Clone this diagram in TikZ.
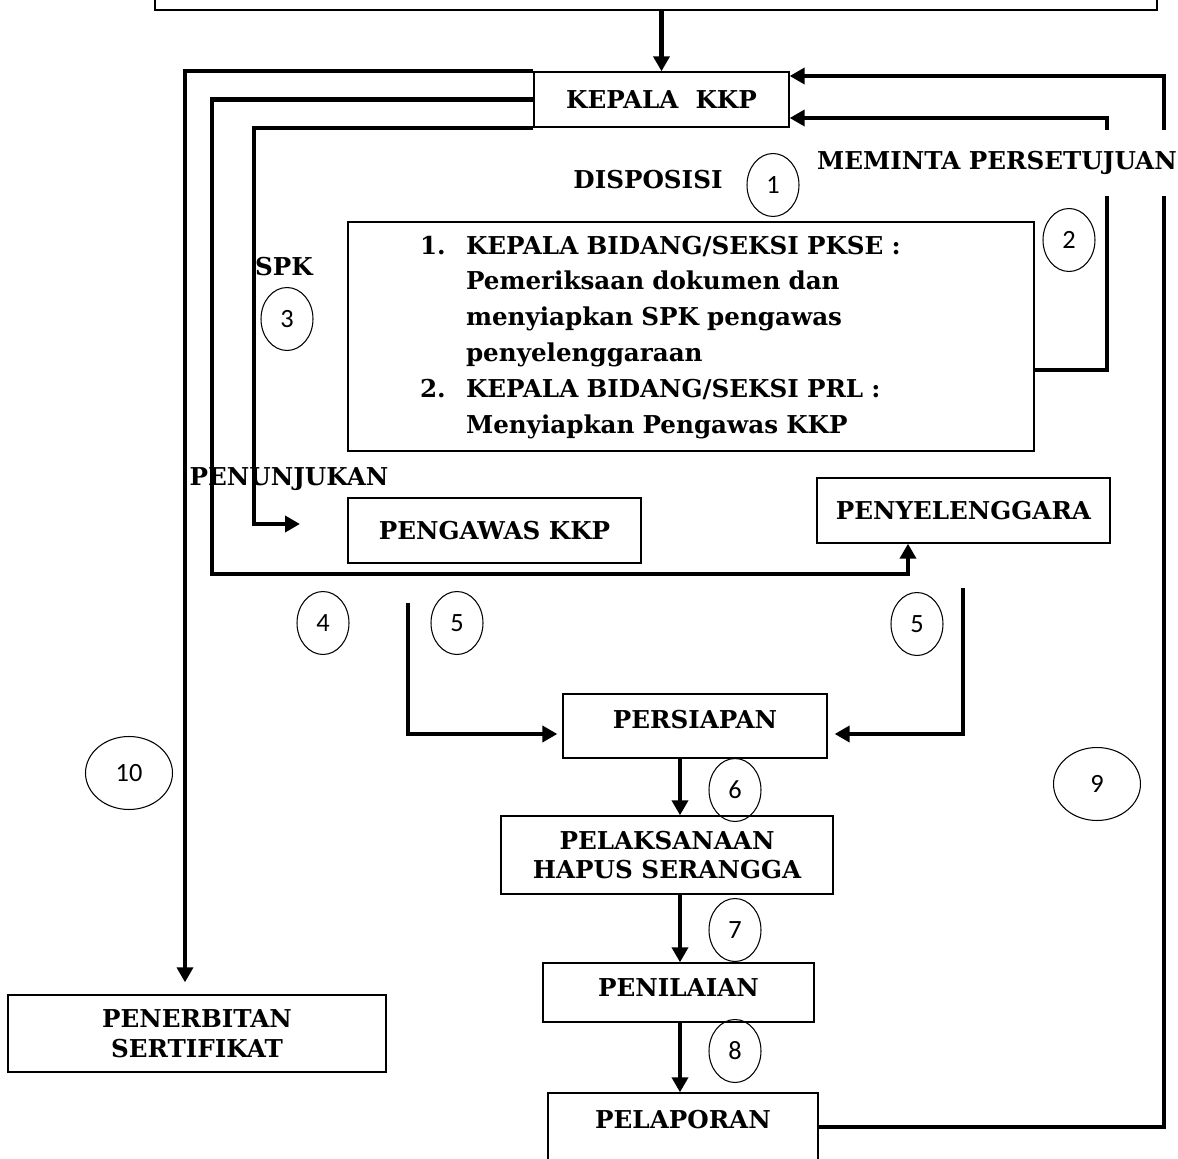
\documentclass[tikz,border=0pt]{standalone}
\usepackage{fontspec}
\setmainfont{DejaVu Serif}
\newfontfamily\angka{Carlito}
\usetikzlibrary{arrows.meta, shapes.geometric}

\begin{document}
\begin{tikzpicture}[x=0.02cm, y=-0.02cm, >={Triangle[length=0.3cm, width=0.32cm]}]

        % Gaya
        \tikzset{
            kotak/.style={draw, line width=0.8pt, align=center, inner sep=0pt, font=\bfseries\fontsize{14}{17}\selectfont},
            bulat/.style={draw, ellipse, line width=0.6pt, inner sep=0pt, minimum width=1.04cm, minimum height=1.26cm, font=\angka\fontsize{15}{15}\selectfont},
            bulatbesar/.style={bulat, minimum width=1.74cm, minimum height=1.46cm},
            keterangan/.style={font=\bfseries\fontsize{14}{17}\selectfont},
            alur/.style={line width=2.4pt},
            panah/.style={alur, ->}
        }

        \useasboundingbox (0,0) rectangle (1178,1159);
        \clip (0,0) rectangle (1178,1159);

        % --- KOTAK-KOTAK ---
        \node[kotak, minimum width=20.04cm, minimum height=1.6cm] (atas) at (656,-30) {};
        \node[kotak, minimum width=5.1cm, minimum height=1.1cm] (kepala) at (661.5,99.5) {KEPALA\ \ KKP};
        \node[kotak, minimum width=13.72cm, minimum height=4.58cm, text width=10.84cm, align=left] (tugas) at (691,336.5) {%
            \fontsize{14}{20.4}\selectfont
            \begin{tabular}{@{}p{0.92cm}@{}l@{}}
                1. & KEPALA BIDANG/SEKSI PKSE :\\
                   & Pemeriksaan dokumen dan\\
                   & menyiapkan SPK pengawas\\
                   & penyelenggaraan\\
                2. & KEPALA BIDANG/SEKSI PRL :\\
                   & Menyiapkan Pengawas KKP
            \end{tabular}};
        \node[kotak, minimum width=5.86cm, minimum height=1.3cm] (pengawas) at (494.5,530.5) {PENGAWAS KKP};
        \node[kotak, minimum width=5.86cm, minimum height=1.3cm] (penyelenggara) at (963.5,510.5) {PENYELENGGARA};
        \node[kotak, minimum width=5.28cm, minimum height=1.28cm, text depth=0.28cm] (persiapan) at (695,726) {PERSIAPAN};
        \node[kotak, minimum width=6.64cm, minimum height=1.56cm] (pelaksanaan) at (667,855) {PELAKSANAAN\\HAPUS SERANGGA};
        \node[kotak, minimum width=5.42cm, minimum height=1.18cm, text depth=0.18cm] (penilaian) at (678.5,992.5) {PENILAIAN};
        \node[kotak, minimum width=5.4cm, minimum height=2.6cm, text depth=1.56cm] (pelaporan) at (683,1158) {PELAPORAN};
        \node[kotak, minimum width=7.56cm, minimum height=1.54cm] (penerbitan) at (197,1033.5) {PENERBITAN\\SERTIFIKAT};

        % --- TULISAN ---
        \node[keterangan] (disposisi) at (648,180) {DISPOSISI};
        \node[keterangan] (spk) at (284,267) {SPK};
        \node[keterangan] (penunjukan) at (289,479) {PENUNJUKAN};

        % --- NOMOR LANGKAH ---
        \node[bulat] (b1) at (773,185) {1};
        \node[bulat] (b2) at (1069,240) {2};
        \node[bulat] (b3) at (287,319) {3};
        \node[bulat] (b4) at (323,623) {4};
        \node[bulat] (b5a) at (457,623) {5};
        \node[bulat] (b5b) at (917,624) {5};
        \node[bulat] (b6) at (735,790) {6};
        \node[bulat] (b7) at (735,930) {7};
        \node[bulat] (b8) at (735,1051) {8};
        \node[bulatbesar] (b9) at (1097,784) {9};
        \node[bulatbesar] (b10) at (129,773) {10};

        % ujung bebas
        \coordinate (ujungspk) at (300,524);
        \coordinate (awal5a) at (408,603);
        \coordinate (awal5b) at (963,588);

        % --- ALUR ---
        \draw[panah] (atas.south -| kepala.north) -- (kepala.north);
        \draw[panah, shorten >=0.24cm] (kepala.north west) -| (penerbitan.north -| 185,0);
        \draw[panah] (kepala.west) -| (212,574) -| (penyelenggara.south -| 908,0);
        \draw[panah] (kepala.south west) -| (254,524) -- (ujungspk);
        \draw[panah] (tugas.east |- 0,370) -| (1107,118) -- (kepala.east |- 0,118);
        \draw[panah] (pelaporan.east |- 0,1127) -| (1164,76) -- (kepala.east |- 0,76);
        \draw[panah, shorten >=0.1cm] (awal5a) |- (persiapan.west |- 0,734);
        \draw[panah, shorten >=0.14cm] (awal5b) |- (persiapan.east |- 0,734);
        \draw[panah] (persiapan.south -| 680,0) -- (pelaksanaan.north -| 680,0);
        \draw[panah] (pelaksanaan.south -| 680,0) -- (penilaian.north -| 680,0);
        \draw[panah] (penilaian.south -| 680,0) -- (pelaporan.north -| 680,0);

        % tulisan di atas garis
        \node[keterangan, fill=white, inner ysep=0.42cm] (meminta) at (997,163) {MEMINTA PERSETUJUAN};

\end{tikzpicture}
\end{document}
